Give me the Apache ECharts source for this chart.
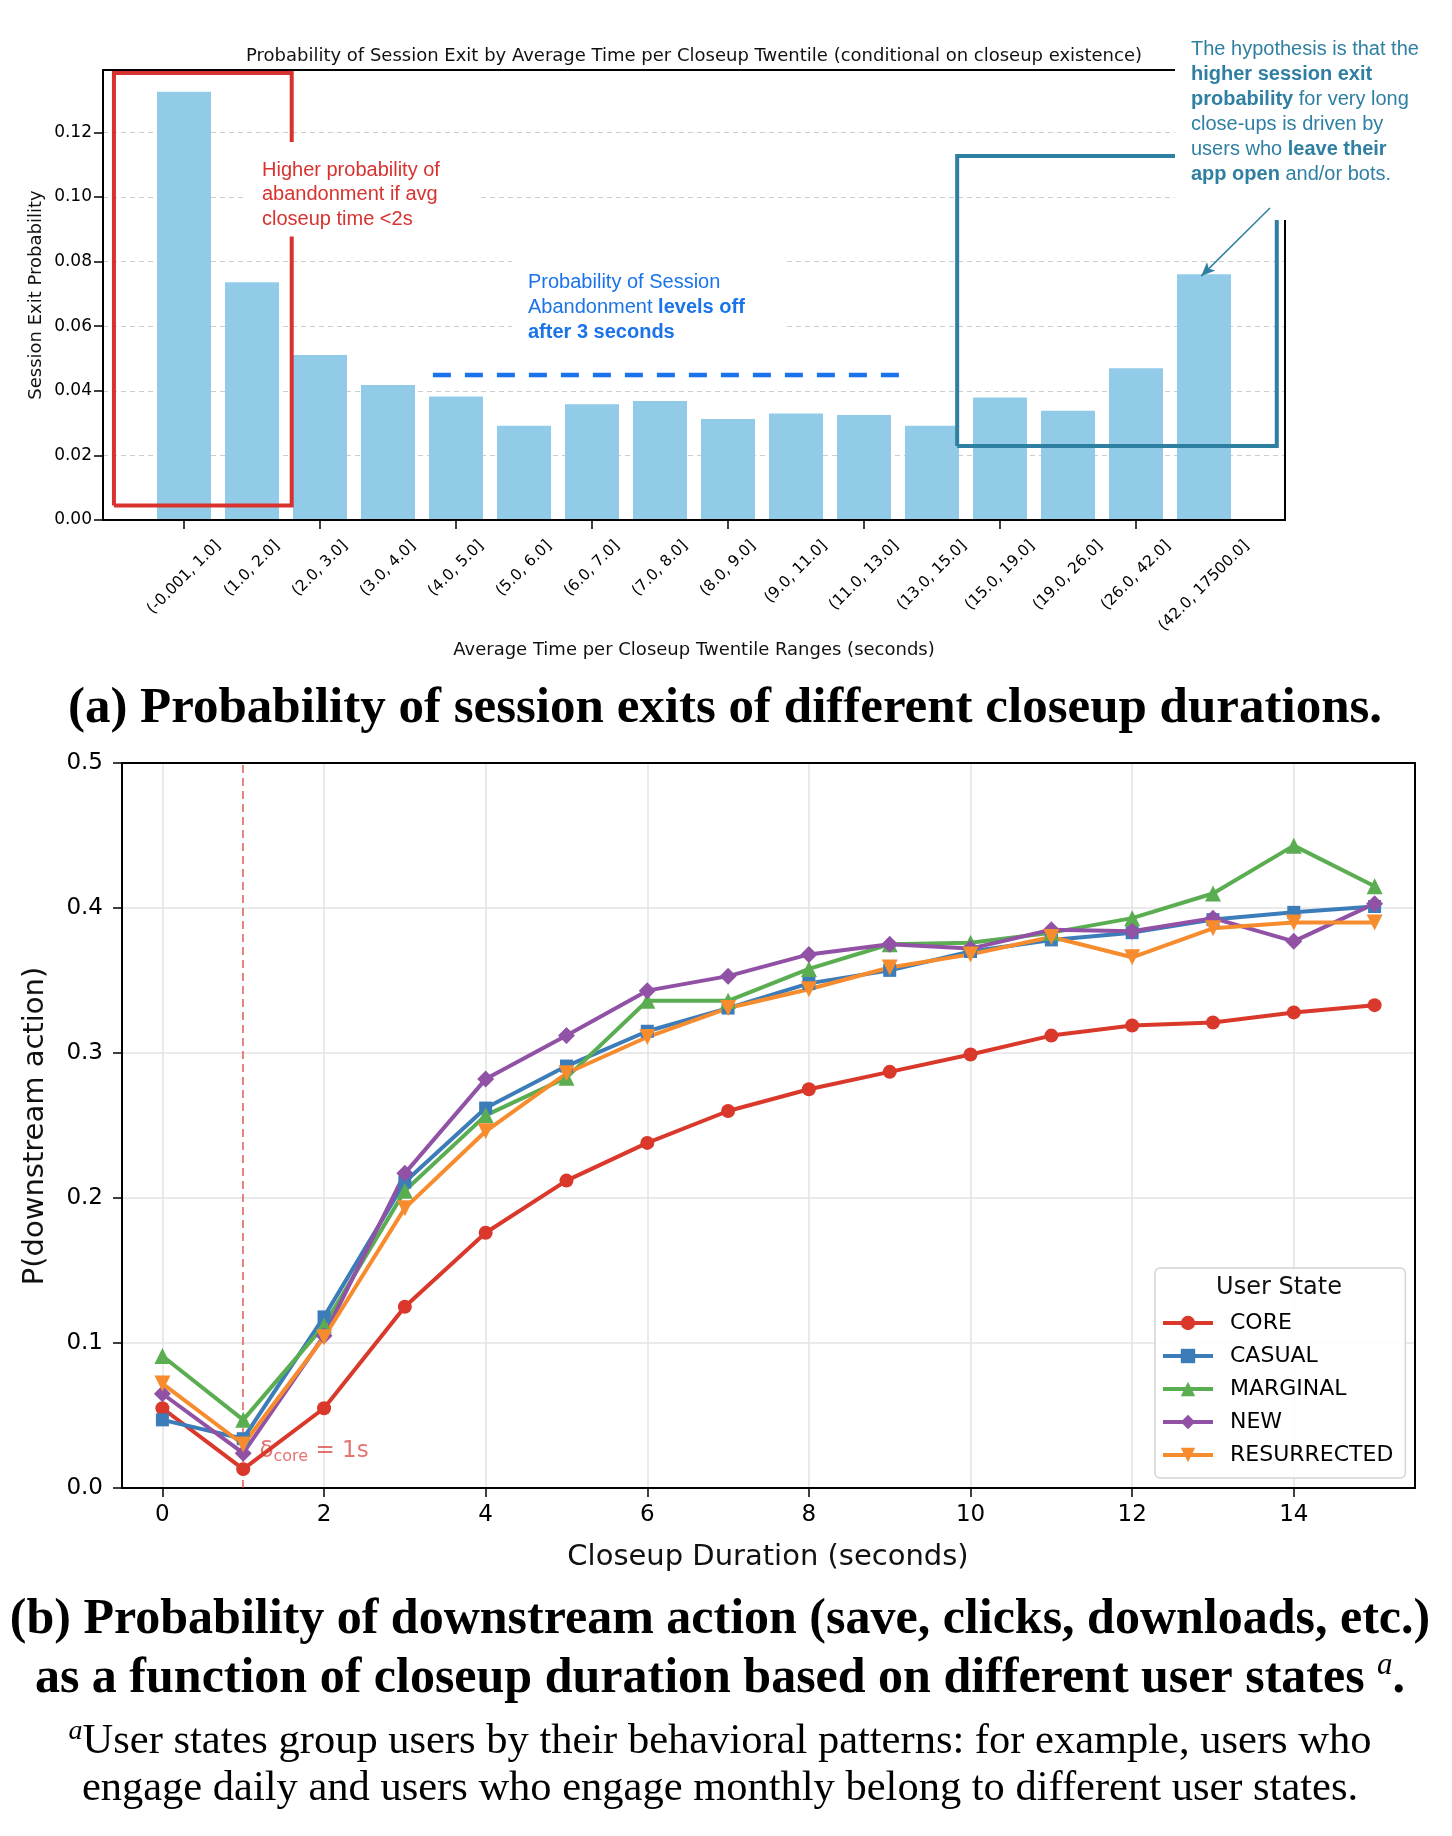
<!DOCTYPE html>
<html>
<head>
<meta charset="utf-8">
<script src="https://cdn.jsdelivr.net/npm/echarts@6/dist/echarts.min.js"></script>
<style>
  html, body { margin: 0; padding: 0; background: #fff; }
  #chart { width: 1452px; height: 1836px; }
</style>
</head>
<body>
<div id="chart"></div>
<script>
// (a) session exit probability per closeup twentile
const twentiles = ['(-0.001, 1.0]', '(1.0, 2.0]', '(2.0, 3.0]', '(3.0, 4.0]', '(4.0, 5.0]', '(5.0, 6.0]',
  '(6.0, 7.0]', '(7.0, 8.0]', '(8.0, 9.0]', '(9.0, 11.0]', '(11.0, 13.0]', '(13.0, 15.0]',
  '(15.0, 19.0]', '(19.0, 26.0]', '(26.0, 42.0]', '(42.0, 17500.0]'];
const exitProb = [0.1326, 0.0736, 0.0511, 0.0418, 0.0382, 0.0292, 0.0358, 0.0368,
  0.0313, 0.0330, 0.0325, 0.0292, 0.0379, 0.0338, 0.0470, 0.0761];

// (b) P(downstream action) per closeup second, by user state
const durations = [0, 1, 2, 3, 4, 5, 6, 7, 8, 9, 10, 11, 12, 13, 14, 15];
const userStates = ['CORE', 'CASUAL', 'MARGINAL', 'NEW', 'RESURRECTED'];
const pCore = [0.055, 0.013, 0.055, 0.125, 0.176, 0.212, 0.238, 0.260, 0.275, 0.287, 0.299, 0.312, 0.319, 0.321, 0.328, 0.333];
const pCasual = [0.047, 0.034, 0.118, 0.211, 0.262, 0.291, 0.315, 0.331, 0.348, 0.357, 0.370, 0.378, 0.383, 0.392, 0.397, 0.401];
const pMarginal = [0.091, 0.047, 0.112, 0.205, 0.257, 0.283, 0.336, 0.336, 0.358, 0.375, 0.376, 0.383, 0.393, 0.410, 0.443, 0.415];
const pNew = [0.065, 0.024, 0.105, 0.217, 0.282, 0.312, 0.343, 0.353, 0.368, 0.375, 0.372, 0.385, 0.384, 0.393, 0.377, 0.403];
const pResurrected = [0.072, 0.030, 0.104, 0.193, 0.246, 0.286, 0.311, 0.331, 0.344, 0.359, 0.368, 0.380, 0.366, 0.386, 0.390, 0.390];

// annotation shapes, in (bar index, probability) units of panel (a)
const redBox = [[-1.03, 0.0045], [-1.03, 0.1384], [1.584, 0.1384], [1.584, 0.0045], [-1.03, 0.0045]];
const tealBox = [[11.37, 0.0229], [11.37, 0.1127], [16.07, 0.1127], [16.07, 0.0229], [11.37, 0.0229]];
const levelOff = [[3.66, 0.0449], [10.63, 0.0449]];
const arrowFrom = [15.97, 0.0966];
const arrowTo = [14.96, 0.0755];
const deltaCore = 1;

const SANS = 'DejaVu Sans';
const NOTE = 'Liberation Sans';
const SERIF = 'Liberation Serif';
const RED = '#d8322f';
const TEAL = '#2f7fa3';
const BLUE = '#1a73e8';

const ctx = document.createElement('canvas').getContext('2d');
const tickSize = 15.5;
ctx.font = tickSize + 'px "' + SANS + '"';

const chart = echarts.init(document.getElementById('chart'));

function frameAxis(extra) {
  return Object.assign({
    type: 'value', axisLabel: { show: false }, axisTick: { show: false }, splitLine: { show: false },
    axisLine: { show: true, onZero: false, lineStyle: { color: '#000', width: 2 } }
  }, extra);
}

function stateSeries(name, values, color, symbol, size, rotate) {
  return {
    name: name, type: 'line', xAxisIndex: 3, yAxisIndex: 3,
    data: durations.map((d, i) => [d, values[i]]),
    symbol: symbol, symbolSize: size, symbolRotate: rotate || 0,
    lineStyle: { color: color, width: 4 }, itemStyle: { color: color }, z: 5
  };
}

const option = {
  animation: false,
  backgroundColor: '#fff',
  textStyle: { fontFamily: SANS },
  grid: [
    { left: 103, top: 70, width: 1182, height: 450 },
    { left: 150, top: 70, width: 1088, height: 450 },
    { left: 122, top: 763, width: 1293, height: 725 }
  ],
  xAxis: [
    frameAxis({ gridIndex: 0, min: -1.191, max: 16.191, z: 5 }),
    frameAxis({ gridIndex: 0, min: -1.191, max: 16.191, position: 'top' }),
    {
      type: 'category', gridIndex: 1, data: twentiles,
      axisLine: { show: false },
      axisTick: { show: true, alignWithLabel: true, length: 9, lineStyle: { color: '#000', width: 1.5 } },
      axisLabel: { show: false }, splitLine: { show: false }
    },
    {
      type: 'value', gridIndex: 2, min: -0.5, max: 15.5, splitNumber: 8, minInterval: 2, maxInterval: 2,
      axisLine: { show: true, onZero: false, lineStyle: { color: '#000', width: 2 } },
      axisTick: { show: true, length: 9, lineStyle: { color: '#000', width: 1.5 } },
      axisLabel: { fontSize: 23, color: '#000', margin: 16, showMinLabel: false, showMaxLabel: false },
      splitLine: { show: true, showMinLine: false, showMaxLine: false, lineStyle: { color: '#e3e3e3', width: 1.5 } }
    },
    frameAxis({ gridIndex: 2, min: 0, max: 1, position: 'top' })
  ],
  yAxis: [
    {
      type: 'value', gridIndex: 0, min: 0, max: 0.1393, interval: 0.02,
      axisLine: { show: true, onZero: false, lineStyle: { color: '#000', width: 2 } },
      axisTick: { show: true, length: 9, lineStyle: { color: '#000', width: 1.5 } },
      axisLabel: { fontSize: 17, color: '#000', margin: 11, showMaxLabel: false, formatter: v => v.toFixed(2) },
      splitLine: { show: true, showMinLine: false, showMaxLine: false, lineStyle: { color: '#cdcdcd', width: 1.2, type: [5, 4] } }
    },
    frameAxis({ gridIndex: 0, min: 0, max: 0.1393, position: 'right' }),
    { type: 'value', gridIndex: 1, min: 0, max: 0.1393, show: false },
    {
      type: 'value', gridIndex: 2, min: 0, max: 0.5, interval: 0.1,
      axisLine: { show: true, onZero: false, lineStyle: { color: '#000', width: 2 } },
      axisTick: { show: true, length: 9, lineStyle: { color: '#000', width: 1.5 } },
      axisLabel: { fontSize: 23, color: '#000', margin: 19, formatter: v => v.toFixed(1) },
      splitLine: { show: true, showMinLine: false, showMaxLine: false, lineStyle: { color: '#e3e3e3', width: 1.5 } }
    },
    frameAxis({ gridIndex: 2, min: 0, max: 1, position: 'right' })
  ],
  legend: {
    data: userStates, orient: 'vertical', left: 1155, top: 1268,
    padding: [42, 12, 10, 6], itemWidth: 50, itemHeight: 18, itemGap: 7,
    backgroundColor: 'rgba(255,255,255,0.9)', borderColor: '#d4d4d4', borderWidth: 1.5, borderRadius: 5,
    lineStyle: { width: 4 },
    textStyle: { fontSize: 22, fontFamily: SANS, color: '#000', lineHeight: 26, padding: [0, 0, 0, 12] }
  },
  series: [
    {
      type: 'bar', xAxisIndex: 2, yAxisIndex: 2, data: exitProb, barWidth: 54,
      itemStyle: { color: '#92cbe7' }, z: 2
    },
    {
      type: 'custom', xAxisIndex: 2, yAxisIndex: 2, clip: false,
      data: twentiles.map((t, i) => [i, 0]),
      renderItem: function (params, api) {
        const p = api.coord([api.value(0), 0]);
        const label = twentiles[params.dataIndex];
        const w = ctx.measureText(label).width;
        const half = (w + 15) * Math.SQRT1_2 / 2;
        return {
          type: 'text', x: p[0], y: p[1] + 18 + half, rotation: Math.PI / 4,
          style: { text: label, fontSize: tickSize, fontFamily: SANS, fill: '#000', align: 'center', verticalAlign: 'middle' }
        };
      }
    },
    {
      type: 'line', xAxisIndex: 0, yAxisIndex: 0, data: redBox, symbol: 'none', z: 3,
      lineStyle: { color: RED, width: 4, join: 'miter' }
    },
    {
      type: 'line', xAxisIndex: 0, yAxisIndex: 0, data: tealBox, symbol: 'none', z: 3,
      lineStyle: { color: TEAL, width: 4, join: 'miter' }
    },
    {
      type: 'line', xAxisIndex: 0, yAxisIndex: 0, data: levelOff, symbol: 'none', z: 3,
      lineStyle: { color: BLUE, width: 4.5, type: [18, 14] }
    },
    {
      type: 'line', xAxisIndex: 0, yAxisIndex: 0, data: [], z: 20,
      markLine: {
        z: 25, silent: true, symbol: ['none', 'arrow'], symbolSize: [9, 14], label: { show: false },
        lineStyle: { color: TEAL, width: 1.5, type: 'solid' },
        data: [[{ coord: arrowFrom }, { coord: arrowTo }]]
      }
    },
    stateSeries('CORE', pCore, '#d9382b', 'circle', 14),
    stateSeries('CASUAL', pCasual, '#3b7cb9', 'rect', 13),
    stateSeries('MARGINAL', pMarginal, '#5aad50', 'triangle', 16),
    stateSeries('NEW', pNew, '#9152a6', 'diamond', 17),
    stateSeries('RESURRECTED', pResurrected, '#f68c2e', 'triangle', 16, 180),
    {
      type: 'scatter', xAxisIndex: 3, yAxisIndex: 3, data: [[deltaCore + 0.2, 0.016]], symbolSize: 0, z: 4,
      label: {
        show: true, position: [0, 0], align: 'left', verticalAlign: 'bottom',
        formatter: '{d|δ}{s|core}{d| = 1s}',
        rich: {
          d: { fontSize: 23, fontFamily: SANS, color: 'rgba(216,50,47,0.85)', lineHeight: 28 },
          s: { fontSize: 16, fontFamily: SANS, color: 'rgba(216,50,47,0.85)', lineHeight: 16, verticalAlign: 'bottom' }
        }
      },
      markLine: {
        silent: true, symbol: ['none', 'none'], label: { show: false },
        lineStyle: { color: 'rgba(216,50,47,0.6)', width: 2, type: [8, 5] },
        data: [{ xAxis: deltaCore }]
      }
    }
  ],
  graphic: [
    {
      type: 'text', x: 694, y: 56, z: 30,
      style: { text: 'Probability of Session Exit by Average Time per Closeup Twentile (conditional on closeup existence)',
        font: '18px "DejaVu Sans"', fill: '#111', align: 'center', verticalAlign: 'middle' }
    },
    {
      type: 'text', x: 36, y: 295, rotation: Math.PI / 2, z: 30,
      style: { text: 'Session Exit Probability', font: '18px "DejaVu Sans"', fill: '#111', align: 'center', verticalAlign: 'middle' }
    },
    {
      type: 'text', x: 694, y: 650, z: 30,
      style: { text: 'Average Time per Closeup Twentile Ranges (seconds)', font: '18px "DejaVu Sans"', fill: '#111', align: 'center', verticalAlign: 'middle' }
    },
    {
      type: 'text', x: 245, y: 142, z: 4,
      style: {
        text: 'Higher probability of\nabandonment if avg\ncloseup time <2s',
        font: '20px "Liberation Sans"', fill: RED, lineHeight: 24.5,
        backgroundColor: '#fff', padding: [16, 40, 5, 17]
      }
    },
    {
      type: 'text', x: 512, y: 250, z: 4,
      style: {
        text: '{n|Probability of Session}\n{n|Abandonment }{b|levels off}\n{b|after 3 seconds}',
        backgroundColor: '#fff', padding: [20, 38, 6, 16],
        rich: {
          n: { fontSize: 20, fontFamily: NOTE, fill: BLUE, lineHeight: 25 },
          b: { fontSize: 20, fontFamily: NOTE, fontWeight: 'bold', fill: BLUE, lineHeight: 25 }
        }
      }
    },
    {
      type: 'text', x: 1175, y: 0, z: 4,
      style: {
        text: '{n|The hypothesis is that the}\n{b|higher session exit}\n{b|probability}{n| for very long}\n{n|close-ups is driven by}\n{n|users who }{b|leave their}\n{b|app open}{n| and/or bots.}',
        backgroundColor: '#fff', padding: [37, 20, 33, 16],
        rich: {
          n: { fontSize: 20, fontFamily: NOTE, fill: TEAL, lineHeight: 25 },
          b: { fontSize: 20, fontFamily: NOTE, fontWeight: 'bold', fill: TEAL, lineHeight: 25 }
        }
      }
    },
    {
      type: 'text', x: 725, y: 709, z: 30,
      style: { text: '(a) Probability of session exits of different closeup durations.',
        font: 'bold 51px "Liberation Serif"', fill: '#000', align: 'center', verticalAlign: 'middle' }
    },
    {
      type: 'text', x: 768, y: 1557, z: 30,
      style: { text: 'Closeup Duration (seconds)', font: '29px "DejaVu Sans"', fill: '#111', align: 'center', verticalAlign: 'middle' }
    },
    {
      type: 'text', x: 35, y: 1126, rotation: Math.PI / 2, z: 30,
      style: { text: 'P(downstream action)', font: '29px "DejaVu Sans"', fill: '#111', align: 'center', verticalAlign: 'middle' }
    },
    {
      type: 'text', x: 1279, y: 1288, z: 30,
      style: { text: 'User State', font: '24px "DejaVu Sans"', fill: '#111', align: 'center', verticalAlign: 'middle' }
    },
    {
      type: 'text', x: 720, y: 1650, z: 30,
      style: {
        text: '{m|(b) Probability of downstream action (save, clicks, downloads, etc.)}\n{m|as a function of closeup duration based on different user states }{s|a}{m|.}',
        align: 'center', verticalAlign: 'middle',
        rich: {
          m: { fontSize: 50, fontFamily: SERIF, fontWeight: 'bold', fill: '#000', lineHeight: 59 },
          s: { fontSize: 31, fontFamily: SERIF, fontStyle: 'italic', fill: '#000', lineHeight: 31, verticalAlign: 'top' }
        }
      }
    },
    {
      type: 'text', x: 720, y: 1765, z: 30,
      style: {
        text: '{s|a}{m|User states group users by their behavioral patterns: for example, users who}\n{m|engage daily and users who engage monthly belong to different user states.}',
        align: 'center', verticalAlign: 'middle',
        rich: {
          m: { fontSize: 42.5, fontFamily: SERIF, fill: '#000', lineHeight: 47 },
          s: { fontSize: 28, fontFamily: SERIF, fontStyle: 'italic', fill: '#000', lineHeight: 28, verticalAlign: 'top' }
        }
      }
    }
  ]
};

chart.setOption(option);
</script>
</body>
</html>
